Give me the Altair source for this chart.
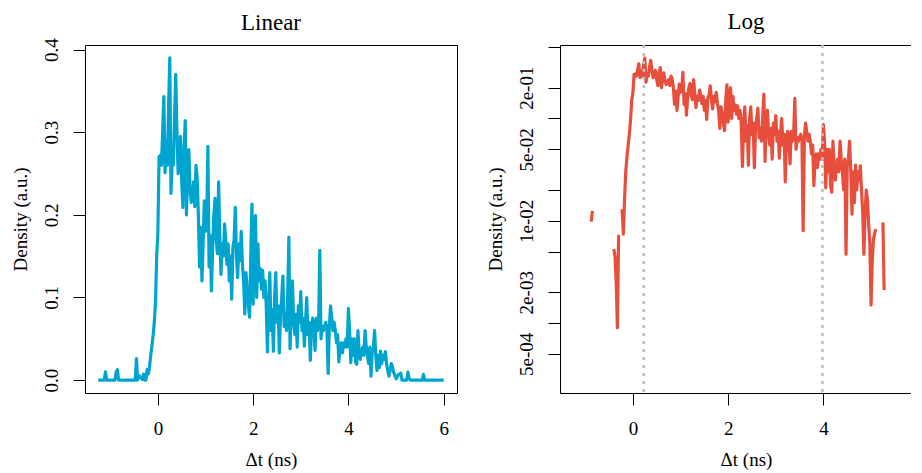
import altair as alt
import pandas as pd

# ---- data ----
t_start = -1.25          # first bin centre (ns)
t_step = 0.025           # bin width (ns)
density = [
    0, 0, 0, 0, 0, 0, 0.010, 0, 0, 0,                                   # -1.25
    0, 0, 0, 0, 0, 0.0098, 0.0125, 0, 0, 0,                             # -1.00
    0, 0, 0, 0, 0, 0, 0, 0, 0, 0,                                       # -0.75
    0, 0, 0.026, 0, 0.0053, 0.0045, 0.0025, 0.0009, 0.0073, 0,          # -0.50
    0, 0.013, 0.0074, 0.016, 0.03, 0.042, 0.054, 0.07, 0.095, 0.15,     # -0.25
    0.178, 0.27, 0.272, 0.26, 0.30, 0.343, 0.251, 0.29, 0.26, 0.33,     # 0.00
    0.39, 0.226, 0.265, 0.26, 0.32, 0.37, 0.30, 0.25, 0.268, 0.295,     # 0.25
    0.24, 0.209, 0.28, 0.314, 0.2, 0.25, 0.279, 0.23, 0.215, 0.225,     # 0.50
    0.24, 0.21, 0.26, 0.245, 0.20, 0.137, 0.185, 0.12, 0.165, 0.217,    # 0.75
    0.18, 0.19, 0.283, 0.137, 0.175, 0.108, 0.16, 0.2, 0.22, 0.17,      # 1.00
    0.153, 0.24, 0.175, 0.128, 0.165, 0.15, 0.189, 0.17, 0.14, 0.165,   # 1.25
    0.12, 0.15, 0.098, 0.16, 0.17, 0.209, 0.15, 0.124, 0.165, 0.145,    # 1.50
    0.18, 0.14, 0.12, 0.08, 0.13, 0.11, 0.09, 0.076, 0.15, 0.213,       # 1.75
    0.092, 0.17, 0.199, 0.1, 0.165, 0.12, 0.135, 0.11, 0.133, 0.1,      # 2.00
    0.12, 0.09, 0.034, 0.09, 0.13, 0.06, 0.085, 0.035, 0.1, 0.13,       # 2.25
    0.07, 0.09, 0.033, 0.08, 0.1, 0.126, 0.065, 0.08, 0.06, 0.1,        # 2.50
    0.173, 0.038, 0.09, 0.12, 0.07, 0.055, 0.08, 0.04, 0.09, 0.07,      # 2.75
    0.107, 0.06, 0.075, 0.041, 0.07, 0.1, 0.055, 0.07, 0.024, 0.06,     # 3.00
    0.075, 0.065, 0.036, 0.075, 0.06, 0.07, 0.157, 0.05, 0.065, 0.06,   # 3.25
    0.065, 0.07, 0.06, 0.008, 0.065, 0.09, 0.075, 0.06, 0.07, 0.06,     # 3.50
    0.045, 0.055, 0.022, 0.04, 0.045, 0.033, 0.045, 0.04, 0.05, 0.04,   # 3.75
    0.087, 0.06, 0.021, 0.05, 0.03, 0.05, 0.022, 0.019, 0.06, 0.035,    # 4.00
    0.025, 0.035, 0.04, 0.03, 0.06, 0.04, 0.03, 0.02, 0.04, 0.0047,     # 4.25
    0.034, 0.04, 0.06, 0.03, 0.0116, 0.03, 0.015, 0.035, 0.02, 0.03,    # 4.50
    0.025, 0.0345, 0.02, 0.012, 0.0047, 0.012, 0.02, 0.016, 0.0092, 0.006,  # 4.75
    0.0015, 0.004, 0.0065, 0.0075, 0.0083, 0, 0, 0, 0, 0,               # 5.00
    0.0096, 0.0021, 0, 0, 0, 0, 0, 0, 0, 0,                             # 5.25
    0, 0, 0, 0.007, 0, 0, 0, 0, 0, 0,                                   # 5.50
    0, 0, 0, 0, 0, 0, 0, 0, 0, 0,                                       # 5.75
    0,                                                                  # 6.00
]
guide_lines = [0.23, 3.98]
x_ticks = [0, 2, 4, 6]
lin_ticks = [0, 0.1, 0.2, 0.3, 0.4]
log_ticks = [0.5, 0.2, 0.1, 0.05, 0.02, 0.01, 0.005, 0.002, 0.001, 0.0005]
log_labels = {0.2: "2e-01", 0.05: "5e-02", 0.01: "1e-02", 0.002: "2e-03", 0.0005: "5e-04"}

t = [round(t_start + i * t_step, 4) for i in range(len(density))]
df = pd.DataFrame({"t": t, "d": density})
df["dlog"] = [v if v > 0 else None for v in density]
rules_df = pd.DataFrame({"t": guide_lines})

# ---- styling ----
FONT = "Liberation Serif"
BLUE = "#00A5CF"
RED = "#E84E3C"
W, H = 372, 348

xscale = alt.Scale(domain=[-1.53, 6.28], nice=False, zero=False)


def x_axis():
    return alt.Axis(values=x_ticks, format="d", title="Δt (ns)",
                    labelPadding=14, titlePadding=27, titleBaseline="alphabetic")


label_expr = " : ".join(
    f"(datum.value > {k*0.9} && datum.value < {k*1.1}) ? '{v}'" for k, v in log_labels.items()
) + " : ''"

lin = alt.Chart(df).mark_line(color=BLUE, strokeWidth=3.2, strokeJoin="round").encode(
    x=alt.X("t:Q", scale=xscale, axis=x_axis()),
    y=alt.Y("d:Q", scale=alt.Scale(domain=[-0.0156, 0.4056], nice=False, zero=False),
            axis=alt.Axis(values=lin_ticks, format=".1f", title="Density (a.u.)",
                          labelAngle=270, labelAlign="center", labelBaseline="alphabetic",
                          labelPadding=16, titlePadding=16, titleBaseline="alphabetic")),
).properties(width=W, height=H, title=alt.Title("Linear", offset=3))

logline = alt.Chart(df).mark_line(color=RED, strokeWidth=3.2, strokeJoin="round").encode(
    x=alt.X("t:Q", scale=xscale, axis=x_axis()),
    y=alt.Y("dlog:Q", scale=alt.Scale(type="log", domain=[0.000207, 0.523], nice=False),
            axis=alt.Axis(values=log_ticks, labelExpr=label_expr, title="Density (a.u.)",
                          labelAngle=270, labelAlign="center", labelBaseline="alphabetic",
                          labelPadding=16, titlePadding=16, titleBaseline="alphabetic")),
)
rules = alt.Chart(rules_df).mark_rule(color="#BEBEBE", strokeDash=[3, 5], strokeWidth=2.5).encode(
    x=alt.X("t:Q", scale=xscale)
)
log = alt.layer(logline, rules).properties(width=W, height=H, title=alt.Title("Log", offset=10))

chart = alt.hconcat(lin, log, spacing=103, bounds="flush").properties(
    padding={"left": 2, "top": 2, "right": -22, "bottom": 0}
).configure_view(stroke="black", strokeWidth=1).configure_axis(
    labelFont=FONT, titleFont=FONT, labelFontSize=19, titleFontSize=19,
    labelColor="black", titleColor="black", tickColor="black", tickSize=12,
    grid=False, domain=False, titleFontWeight="normal",
).configure_title(
    font=FONT, fontSize=23, fontWeight="normal", color="black",
    frame="group", baseline="alphabetic",
)

chart.save("out.html", embed_options={"renderer": "svg", "actions": False})
